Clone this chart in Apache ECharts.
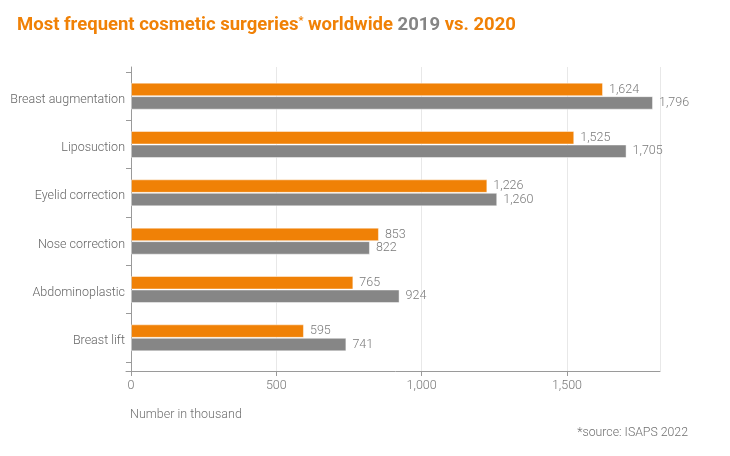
<!DOCTYPE html>
<html>
<head>
<meta charset="utf-8">
<script src="https://cdn.jsdelivr.net/npm/echarts@6/dist/echarts.min.js"></script>
<style>
  html, body { margin: 0; padding: 0; background: #fff; }
  #chart { width: 730px; height: 456px; }
</style>
</head>
<body>
<div id="chart"></div>
<script>
// categories, top to bottom
const surgeries = ['Breast augmentation', 'Liposuction', 'Eyelid correction', 'Nose correction', 'Abdominoplastic', 'Breast lift']
// number in thousand
const values2020 = [1624, 1525, 1226, 853, 765, 595]
const values2019 = [1796, 1705, 1260, 822, 924, 741]
const xTicks = [0, 500, 1000, 1500]

const orange = '#f08106'
const grey = '#868686'
const axisGrey = '#9a9a9a'
const font = 'Roboto, "Open Sans", sans-serif'
const xMax = 1820

function fmt(v){
    return Number(v).toLocaleString('en-US')
}

function barLabel(){
    return {
        show: true, position: 'right', distance: 6,
        color: '#7a7a7a', fontSize: 12.5, fontWeight: 300, fontFamily: font,
        formatter: p => fmt(p.value)
    }
}

let option = {
    animation: false,
    title: [
        {
            left: 12, top: 11,
            text: '{o|Most frequent cosmetic surgeries}{s|*}{o| worldwide }{g|2019}{o| vs. 2020}',
            textStyle: {
                rich: {
                    o: { color: orange, fontSize: 18.5, fontWeight: 'bold', fontFamily: font },
                    g: { color: '#858585', fontSize: 18.5, fontWeight: 'bold', fontFamily: font },
                    s: { color: orange, fontSize: 11, fontWeight: 'bold', fontFamily: font, verticalAlign: 'top', padding: [0, 0, 8, 0] }
                }
            }
        },
        {
            left: 125, top: 403,
            text: 'Number in thousand',
            textStyle: { color: '#707070', fontSize: 12.5, fontWeight: 300, fontFamily: font }
        },
        {
            right: 37, top: 422,
            text: '*source: ISAPS 2022',
            textStyle: { color: '#707070', fontSize: 12.3, fontWeight: 300, fontFamily: font }
        }
    ],
    // grid 0 holds the bars, grid 1 draws the frame axes which run a bit longer,
    // grid 2 is the short stub of the x axis line left of zero
    grid: [
        { left: 131, right: 70, top: 72, height: 290 },
        { left: 131, right: 70, top: 67, bottom: 85 },
        { left: 126, width: 5, top: 360, bottom: 85 }
    ],
    xAxis: [
        { gridIndex: 0, type: 'value', min: 0, max: xMax, show: false },
        {
            gridIndex: 1,
            type: 'value',
            min: 0,
            max: xMax,
            interval: 500,
            axisLine: { show: true, lineStyle: { color: axisGrey } },
            axisTick: { show: true, length: 5, lineStyle: { color: axisGrey } },
            splitLine: { show: true, lineStyle: { color: '#e8e8e8' } },
            axisLabel: {
                color: '#777', fontSize: 12.5, fontWeight: 300, fontFamily: font, margin: 8,
                showMaxLabel: false,
                formatter: v => xTicks.includes(v) ? fmt(v) : ''
            }
        },
        {
            gridIndex: 2, type: 'value', min: 0, max: 1,
            axisLine: { show: true, lineStyle: { color: axisGrey } },
            axisTick: { show: false }, axisLabel: { show: false }, splitLine: { show: false }
        }
    ],
    yAxis: [
        {
            gridIndex: 0,
            type: 'category',
            inverse: true,
            data: surgeries,
            axisLine: { show: false },
            axisTick: { show: true, length: 5, lineStyle: { color: axisGrey } },
            axisLabel: {
                margin: 6,
                formatter: v => '{c|' + v + '}',
                rich: {
                    c: { color: '#666', fontSize: 12.5, fontWeight: 300, fontFamily: font, padding: [7, 0, 0, 0] }
                }
            }
        },
        {
            gridIndex: 1,
            type: 'category',
            data: [''],
            axisLine: { show: true, lineStyle: { color: axisGrey } },
            axisTick: { show: false },
            axisLabel: { show: false }
        },
        {
            gridIndex: 2, type: 'value', show: false
        }
    ],
    series: [
        {
            name: '2020',
            type: 'bar',
            xAxisIndex: 0, yAxisIndex: 0,
            data: values2020,
            barWidth: 13.5,
            barGap: '0%',
            itemStyle: { color: orange, borderColor: 'rgba(255,255,255,0.45)', borderWidth: 1 },
            label: barLabel()
        },
        {
            name: '2019',
            type: 'bar',
            xAxisIndex: 0, yAxisIndex: 0,
            data: values2019,
            barWidth: 13.5,
            itemStyle: { color: grey, borderColor: 'rgba(255,255,255,0.45)', borderWidth: 1 },
            label: barLabel()
        }
    ]
}

let chart = echarts.init(document.querySelector('#chart'))
chart.setOption(option)
</script>
</body>
</html>
